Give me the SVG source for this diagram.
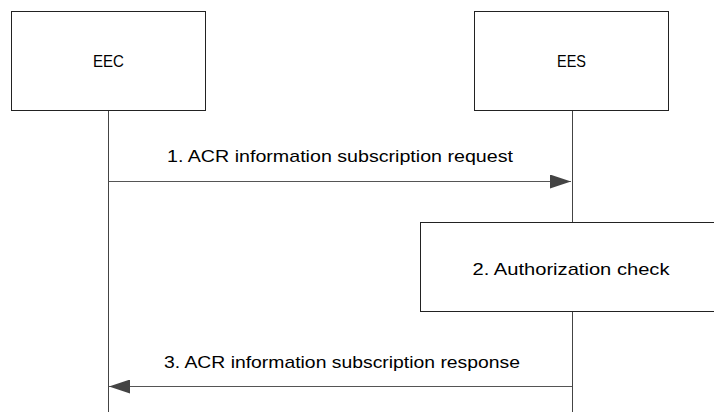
<svg xmlns="http://www.w3.org/2000/svg" width="714" height="414" viewBox="0 0 714 414">
<style>
.box{fill:#fff;stroke:#222;stroke-width:1}
.life{stroke:#444;stroke-width:1;fill:none}
.msg{stroke:#555;stroke-width:1;fill:none}
text{font-family:"Liberation Sans",Arial,sans-serif;font-size:17px;fill:#000;text-anchor:middle}
</style>
<defs>
<marker id="ah" markerWidth="22" markerHeight="14" refX="21" refY="7" orient="auto" markerUnits="userSpaceOnUse">
<path d="M0,0 L21,7 L0,14 Z" fill="#444"/>
</marker>
</defs>
<g id="connectors">
<line class="life" x1="108.5" y1="111" x2="108.5" y2="412"/>
<line class="life" x1="572.5" y1="111" x2="572.5" y2="412"/>
<line class="msg" x1="108.5" y1="181.5" x2="571" y2="181.5" marker-end="url(#ah)"/>
<line class="msg" x1="572" y1="386.5" x2="109" y2="386.5" marker-end="url(#ah)"/>
<text x="340" y="162" textLength="346" lengthAdjust="spacingAndGlyphs">1. ACR information subscription request</text>
<text x="342" y="368" textLength="356" lengthAdjust="spacingAndGlyphs">3. ACR information subscription response</text>
</g>
<g id="EEC">
<rect class="box" x="11.5" y="11.5" width="194" height="99"/>
<text x="108.5" y="67" textLength="31" lengthAdjust="spacingAndGlyphs">EEC</text>
</g>
<g id="EES">
<rect class="box" x="474.5" y="11.5" width="194" height="99"/>
<text x="571.5" y="67" textLength="29" lengthAdjust="spacingAndGlyphs">EES</text>
</g>
<g id="auth">
<rect class="box" x="420.5" y="222.5" width="300" height="89"/>
<text x="571" y="275" textLength="197" lengthAdjust="spacingAndGlyphs">2. Authorization check</text>
</g>
</svg>
